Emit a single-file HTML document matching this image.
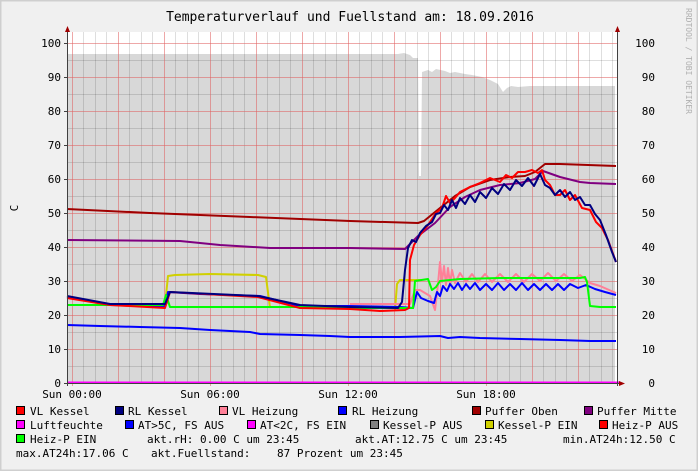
<!DOCTYPE html>
<html><head><meta charset="utf-8"><style>
html,body{margin:0;padding:0;background:#f0f0f0}
svg{display:block}
text{font-family:"DejaVu Sans Mono","Liberation Mono",monospace;font-size:11px;fill:#000}
</style></head><body>
<svg width="698" height="471" viewBox="0 0 698 471" xmlns="http://www.w3.org/2000/svg">
<rect x="0" y="0" width="698" height="471" fill="#f0f0f0"/>
<rect x="0.5" y="0.5" width="697" height="470" fill="none" stroke="#cfcfcf" stroke-width="2"/>
<rect x="67" y="32" width="550" height="351" fill="#ffffff"/>
<path d="M67,383 L67,54 L398,54 L404,53 L410,55 L413,58 L418,58 L419,176 L421,176 L422,72 L428,70 L432,72 L436,69 L445,71 L450,73 L455,72 L465,74 L472,75 L482,77 L490,80 L498,84 L503,92 L507,88 L511,86 L518,87 L530,86 L560,86 L615,86 L615,383 Z" fill="#d8d8d8"/>
<g stroke="#000" stroke-opacity="0.13" stroke-width="1">
<path d="M67,366.5H617M67,332.5H617M67,298.5H617M67,264.5H617M67,230.5H617M67,196.5H617M67,162.5H617M67,128.5H617M67,94.5H617M67,60.5H617"/>
<path d="M83.5,32V383M95.5,32V383M106.5,32V383M129.5,32V383M141.5,32V383M152.5,32V383M175.5,32V383M187.5,32V383M198.5,32V383M221.5,32V383M233.5,32V383M244.5,32V383M267.5,32V383M279.5,32V383M290.5,32V383M313.5,32V383M325.5,32V383M336.5,32V383M359.5,32V383M371.5,32V383M382.5,32V383M405.5,32V383M417.5,32V383M428.5,32V383M451.5,32V383M463.5,32V383M474.5,32V383M497.5,32V383M509.5,32V383M520.5,32V383M543.5,32V383M555.5,32V383M566.5,32V383M589.5,32V383M601.5,32V383M612.5,32V383"/>
</g>
<g stroke="#e06060" stroke-opacity="0.55" stroke-width="1">
<path d="M67,349.5H617M67,315.5H617M67,281.5H617M67,247.5H617M67,213.5H617M67,179.5H617M67,145.5H617M67,111.5H617M67,77.5H617M67,43.5H617"/>
<path d="M72.5,32V386M118.5,32V383M164.5,32V383M210.5,32V386M256.5,32V383M302.5,32V383M348.5,32V386M394.5,32V383M440.5,32V383M486.5,32V386M532.5,32V383M578.5,32V383"/>
</g>
<g fill="none" stroke-width="2" stroke-linejoin="round">
<polyline stroke="#0000ff" points="67,325 100,326 140,327 180,328 210,330 250,332 260,334 300,335 330,336 350,337 380,337 400,337 440,336 448,338 460,337 480,338 520,339 560,340 590,341 616,341"/>
<polyline stroke="#a00000" points="67,209 150,213 250,217 350,221 418,223 424,221 440,208 455,196 470,187 490,180 510,177 525,176 535,172 545,164 560,164 616,166"/>
<polyline stroke="#800080" points="67,240 180,241 220,245 270,248 350,248 405,249 412,242 418,236 435,223 450,207 465,197 480,190 500,185 520,183 535,179 543,171 560,177 580,182 590,183 616,184"/>
<polyline stroke="#d0d000" points="165,305 168,276 175,275 210,274 258,275 266,277 270,308"/>
<polyline stroke="#d0d000" points="395,310 397,284 400,280 415,280 421,280"/>
<polyline stroke="#ff8098" points="350,304 410,304 415,290 420,290 430,296 435,310 438,284 440,262 442,282 444,266 446,285 448,268 450,284 452,270 455,283 460,273 466,282 472,274 478,282 485,274 492,282 500,274 508,282 516,274 524,282 532,274 540,281 548,273 556,281 564,274 572,281 580,275 590,283 600,286 616,293"/>
<polyline stroke="#0000ff" points="67,297 110,305 165,306 168,292 200,294 260,296 300,306 350,306 400,307 413,308 417,292 421,298 428,301 434,303 437,292 440,296 443,286 447,291 450,284 454,289 458,283 462,290 466,284 470,289 475,283 480,290 486,284 492,290 498,283 504,290 510,284 516,290 522,283 528,290 534,284 540,290 546,284 552,290 558,284 564,290 570,284 578,288 586,285 595,289 605,292 616,295"/>
<polyline stroke="#00ff00" points="67,305 163,305 166,295 170,307 270,307 300,307 350,308 413,308 415,281 428,279 432,290 436,287 440,281 460,279 500,278 540,278 580,278 585,277 587,282 590,306 600,307 616,307"/>
<polyline stroke="#ff0000" points="67,298 110,305 165,308 170,292 258,297 300,308 350,309 380,311 405,310 409,308 410,260 414,245 420,235 428,225 436,213 442,208 446,196 450,203 455,198 460,192 470,187 480,183 490,178 500,182 506,175 512,178 518,172 525,172 532,170 538,173 542,170 545,180 550,185 555,195 560,195 565,190 570,200 575,195 582,208 590,210 596,222 602,228 608,240 616,262"/>
<polyline stroke="#000080" points="67,296 110,304 165,304 170,292 258,296 300,305 350,307 398,308 402,302 405,270 408,248 412,240 416,242 420,233 426,226 432,222 436,214 440,213 444,205 448,210 452,200 456,208 460,198 465,204 470,195 475,202 480,192 486,198 492,188 498,194 504,184 510,190 516,180 522,186 528,178 534,186 540,174 545,185 550,188 555,195 560,190 565,197 570,192 575,200 580,197 585,205 590,205 595,214 600,220 606,235 612,252 616,262"/>
<line x1="67" y1="382.5" x2="620" y2="382.5" stroke="#ff00ff" stroke-width="2"/>
</g>
<g stroke="#404040" stroke-width="1">
<line x1="67.5" y1="30" x2="67.5" y2="386"/>
<line x1="617.5" y1="30" x2="617.5" y2="386"/>
<line x1="64" y1="383.5" x2="620" y2="383.5"/>
</g>
<polygon points="67.5,26 65,32 70,32" fill="#a00000"/>
<polygon points="617.5,26 615,32 620,32" fill="#a00000"/>
<polygon points="625,383.5 619,381 619,386" fill="#a00000"/>
<g stroke="#404040"><path d="M64,349.5H67M64,315.5H67M64,281.5H67M64,247.5H67M64,213.5H67M64,179.5H67M64,145.5H67M64,111.5H67M64,77.5H67M64,43.5H67"/></g>
<g text-anchor="end">
<text x="61" y="387">0</text><text x="61" y="353">10</text><text x="61" y="319">20</text><text x="61" y="285">30</text><text x="61" y="251">40</text><text x="61" y="217">50</text><text x="61" y="183">60</text><text x="61" y="149">70</text><text x="61" y="115">80</text><text x="61" y="81">90</text><text x="61" y="47">100</text>
<text x="655" y="387">0</text><text x="655" y="353">10</text><text x="655" y="319">20</text><text x="655" y="285">30</text><text x="655" y="251">40</text><text x="655" y="217">50</text><text x="655" y="183">60</text><text x="655" y="149">70</text><text x="655" y="115">80</text><text x="655" y="81">90</text><text x="655" y="47">100</text>
</g>
<text x="18" y="208" transform="rotate(-90 18 208)" text-anchor="middle">C</text>
<g text-anchor="middle">
<text x="72" y="398">Sun 00:00</text><text x="210" y="398">Sun 06:00</text><text x="348" y="398">Sun 12:00</text><text x="486" y="398">Sun 18:00</text>
</g>
<text x="350" y="21" text-anchor="middle" style="font-size:13px">Temperaturverlauf und Fuellstand am: 18.09.2016</text>
<text x="686" y="8" transform="rotate(90 686 8)" style="font-size:8px;fill:#b0b0b0">RRDTOOL / TOBI OETIKER</text>
<g stroke="#000" stroke-width="1">
<rect x="16.5" y="406.5" width="8" height="8" fill="#ff0000"/>
<rect x="115.5" y="406.5" width="8" height="8" fill="#000080"/>
<rect x="219.5" y="406.5" width="8" height="8" fill="#ff8098"/>
<rect x="338.5" y="406.5" width="8" height="8" fill="#0000ff"/>
<rect x="472.5" y="406.5" width="8" height="8" fill="#a00000"/>
<rect x="584.5" y="406.5" width="8" height="8" fill="#800080"/>
<rect x="16.5" y="420.5" width="8" height="8" fill="#ff00ff"/>
<rect x="125.5" y="420.5" width="8" height="8" fill="#0000ff"/>
<rect x="247.5" y="420.5" width="8" height="8" fill="#ff00ff"/>
<rect x="370.5" y="420.5" width="8" height="8" fill="#808080"/>
<rect x="485.5" y="420.5" width="8" height="8" fill="#d0d000"/>
<rect x="599.5" y="420.5" width="8" height="8" fill="#ff0000"/>
<rect x="16.5" y="434.5" width="8" height="8" fill="#00ff00"/>
</g>
<text x="30" y="415">VL Kessel</text>
<text x="128" y="415">RL Kessel</text>
<text x="232" y="415">VL Heizung</text>
<text x="352" y="415">RL Heizung</text>
<text x="485" y="415">Puffer Oben</text>
<text x="597" y="415">Puffer Mitte</text>
<text x="30" y="429">Luftfeuchte</text>
<text x="138" y="429">AT&gt;5C, FS AUS</text>
<text x="260" y="429">AT&lt;2C, FS EIN</text>
<text x="383" y="429">Kessel-P AUS</text>
<text x="498" y="429">Kessel-P EIN</text>
<text x="612" y="429">Heiz-P AUS</text>
<text x="30" y="443">Heiz-P EIN</text>
<text x="147" y="443">akt.rH: 0.00 C um 23:45</text>
<text x="355" y="443">akt.AT:12.75 C um 23:45</text>
<text x="563" y="443">min.AT24h:12.50 C</text>
<text x="16" y="457">max.AT24h:17.06 C</text>
<text x="151" y="457">akt.Fuellstand:</text>
<text x="277" y="457">87 Prozent um 23:45</text>
</svg>
</body></html>
